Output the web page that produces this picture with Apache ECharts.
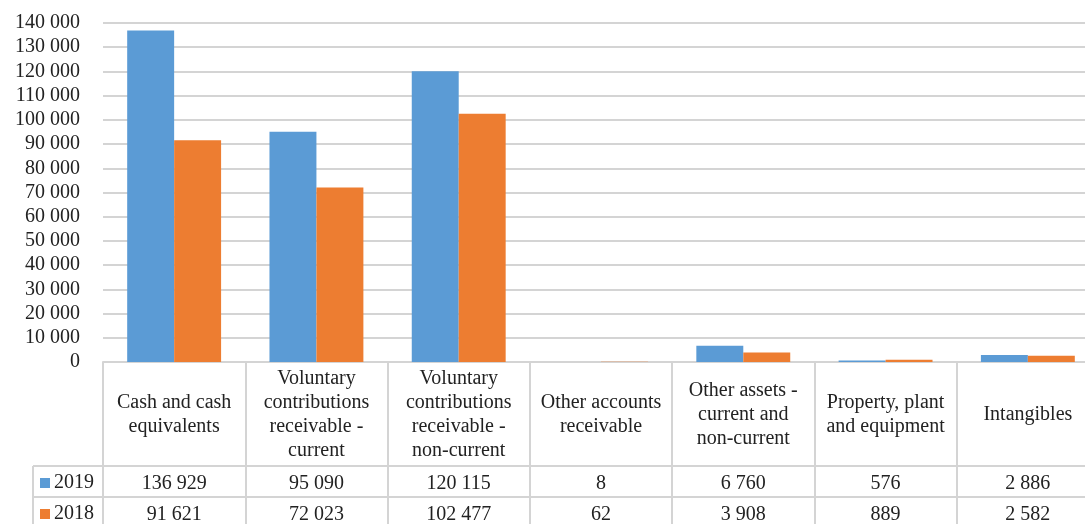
<!DOCTYPE html>
<html>
<head>
<meta charset="utf-8">
<script src="https://cdn.jsdelivr.net/npm/echarts@6/dist/echarts.min.js"></script>
<style>
  html, body { margin: 0; padding: 0; background: #ffffff; }
  #chart { width: 1085px; height: 524px; }
</style>
</head>
<body>
<div id="chart"></div>
<script>
// Statement of financial position – asset lines, 2019 vs 2018
const categories = [
  'Cash and cash equivalents',
  'Voluntary contributions receivable - current',
  'Voluntary contributions receivable - non-current',
  'Other accounts receivable',
  'Other assets - current and non-current',
  'Property, plant and equipment',
  'Intangibles'
];
// wrapped header text for the data-table row
const categoryLabels = [
  'Cash and cash\nequivalents',
  'Voluntary\ncontributions\nreceivable -\ncurrent',
  'Voluntary\ncontributions\nreceivable -\nnon-current',
  'Other accounts\nreceivable',
  'Other assets -\ncurrent and\nnon-current',
  'Property, plant\nand equipment',
  'Intangibles'
];
const seriesNames = ['2019', '2018'];
const values2019 = [136929, 95090, 120115, 8, 6760, 576, 2886];
const values2018 = [91621, 72023, 102477, 62, 3908, 889, 2582];
const yTicks = { min: 0, max: 140000, interval: 10000 };

const FONT = "'Liberation Serif', 'Times New Roman', serif";
const TEXT = '#222222';
const LINE = '#d4d4d4';
const BLUE = '#5b9bd5';
const ORANGE = '#ed7d31';

// layout
const gridLeft = 103, gridTop = 23, gridBottom = 162, gridWidth = 996;
const headerH = 104, rowH = 31, keyLeft = 33;

const fmt = v => String(v).replace(/\B(?=(\d{3})+(?!\d))/g, ' ');

const chart = echarts.init(document.getElementById('chart'), null, { renderer: 'canvas' });

const plotBottom = 524 - gridBottom;
const tableLines = [
  { x1: keyLeft, y1: plotBottom + headerH, x2: gridLeft, y2: plotBottom + headerH },
  { x1: keyLeft, y1: plotBottom + headerH + rowH, x2: gridLeft, y2: plotBottom + headerH + rowH },
  { x1: keyLeft, y1: plotBottom + headerH, x2: keyLeft, y2: 524 }
].map(s => ({
  type: 'line', silent: true,
  shape: s,
  style: { stroke: LINE, lineWidth: 2 }
}));

function rowAxis(offset, vals) {
  return {
    type: 'category',
    data: categories,
    position: 'bottom',
    offset: offset,
    axisLine: { show: true, lineStyle: { color: LINE, width: 2 } },
    axisTick: { show: false },
    axisLabel: {
      interval: 0,
      margin: rowH / 2 + 2,
      verticalAlign: 'middle',
      fontFamily: FONT, fontSize: 20, color: TEXT,
      formatter: (v, i) => fmt(vals[i])
    }
  };
}

// one legend key per data-table row
function rowKey(name, top) {
  return {
    left: 35, top: top,
    icon: 'rect',
    itemWidth: 10, itemHeight: 10,
    textStyle: { fontFamily: FONT, fontSize: 20, color: TEXT, padding: [0, 0, 0, -1] },
    data: [name]
  };
}

chart.setOption({
  animation: false,
  backgroundColor: '#ffffff',
  color: [BLUE, ORANGE],
  grid: {
    left: gridLeft, top: gridTop, width: gridWidth, bottom: gridBottom,
    outerBoundsMode: 'none'
  },
  legend: [
    rowKey(seriesNames[0], plotBottom + headerH + 2),
    rowKey(seriesNames[1], plotBottom + headerH + rowH + 2)
  ],
  xAxis: [
    {
      type: 'category',
      data: categories,
      axisLine: { show: true, lineStyle: { color: LINE, width: 2 } },
      axisTick: { show: true, alignWithLabel: false, length: 170, lineStyle: { color: LINE, width: 2 } },
      axisLabel: {
        interval: 0,
        margin: headerH / 2 + 1,
        verticalAlign: 'middle',
        align: 'center',
        fontFamily: FONT, fontSize: 20, lineHeight: 24, color: TEXT,
        formatter: (v, i) => categoryLabels[i]
      }
    },
    rowAxis(headerH, values2019),
    rowAxis(headerH + rowH, values2018)
  ],
  yAxis: {
    type: 'value',
    min: yTicks.min, max: yTicks.max, interval: yTicks.interval,
    axisLine: { show: false },
    axisTick: { show: false },
    splitLine: { lineStyle: { color: LINE, width: 2 } },
    axisLabel: {
      margin: 23,
      fontFamily: FONT, fontSize: 20, color: TEXT,
      formatter: v => fmt(v)
    }
  },
  series: [
    { name: seriesNames[0], type: 'bar', data: values2019, barGap: '0%', barCategoryGap: '34%' },
    { name: seriesNames[1], type: 'bar', data: values2018, barGap: '0%', barCategoryGap: '34%' }
  ],
  graphic: tableLines
});
</script>
</body>
</html>
